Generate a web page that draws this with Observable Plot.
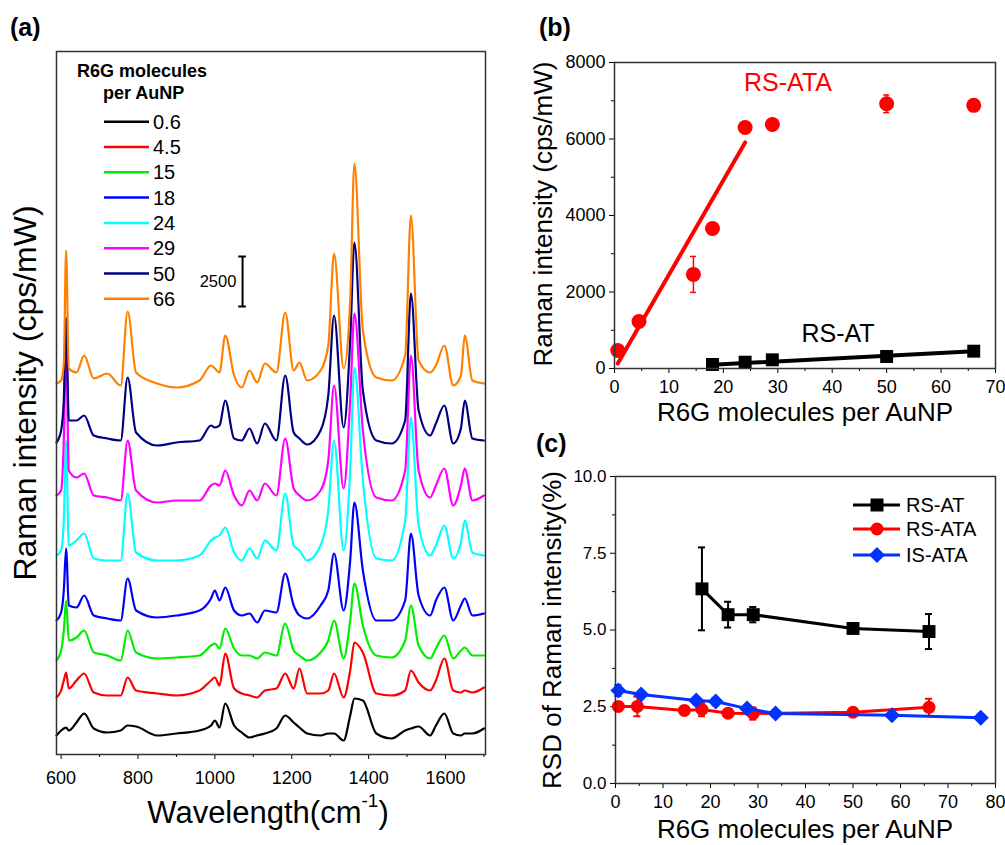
<!DOCTYPE html>
<html><head><meta charset="utf-8">
<script src="https://cdn.jsdelivr.net/npm/d3@7"></script>
<script src="https://cdn.jsdelivr.net/npm/@observablehq/plot@0.6"></script>
<style>
body{margin:0;background:#fff}
#wrap{position:relative;width:1005px;height:845px;overflow:hidden;background:#fff;font-family:"Liberation Sans",Arial,sans-serif}
#wrap > svg{position:absolute;left:0;top:0}
</style></head><body><div id="wrap"></div>
<script>
// ---------- Panel (a): spectra ----------
const wavenumbers = [588,600,607,613,620,640,660,685,720,755,773,795,850,900,960,990,1000,1012,1027,1050,1070,1090,1110,1130,1160,1183,1205,1220,1240,1275,1295,1310,1335,1352,1363,1385,1420,1460,1495,1510,1530,1560,1575,1597,1620,1640,1650,1670,1700];
const seriesNames = ["0.6","4.5","15","18","24","29","50","66"];
const seriesColors = ["#000000","#ff0000","#00ee00","#0000ff","#00ffff","#ff00ff","#000080","#ff8000"];
const offsets = [1100,3050,4850,6850,9850,12700,15600,18550];
const spec06 = [-150,100,200,250,100,500,950,200,0,100,350,300,-150,-50,100,350,600,250,1450,350,0,-250,-150,-50,200,850,500,250,-50,-150,-50,-50,-400,850,1700,1600,-50,-300,100,200,300,-150,350,950,-50,-150,-50,-50,200];
const spec45 = [-200,150,650,1050,250,650,1000,50,-100,-100,800,150,0,-100,150,650,800,400,2000,250,0,-100,-200,150,250,1000,250,1250,0,0,150,1000,-200,1150,2550,2050,0,-100,150,1150,550,150,650,1750,150,50,150,50,300];
const spec15 = [-150,350,1350,2850,850,1000,1350,250,100,-150,1350,250,-50,0,100,600,700,450,1450,450,100,100,-50,250,100,1700,350,100,-150,250,850,1850,-50,1850,3700,1600,100,0,850,2600,600,-50,450,1100,-50,350,500,100,100];
const spec18 = [-150,250,1350,3450,600,500,1100,100,-50,-150,1950,350,0,100,350,950,1350,850,1500,350,100,200,-250,350,250,2200,600,100,-50,600,1350,3200,350,2850,5750,2350,-150,-150,850,4200,1100,100,850,1500,-150,600,950,100,200];
const spec24 = [100,350,1850,5850,600,850,1200,-50,-150,-150,3200,250,-150,-150,100,850,1000,1100,1500,250,-150,450,-50,850,350,3200,600,350,-150,600,2350,5850,350,4350,9500,3850,-50,-150,1850,7000,1600,100,600,1600,-50,750,1850,250,100];
const spec29 = [250,500,3000,7750,1500,1150,1350,250,150,0,3000,500,-100,0,0,750,850,750,1500,250,-250,500,0,850,250,3100,600,250,0,500,2000,5750,600,5000,9350,3500,150,0,1500,7250,1500,150,750,1600,-250,750,1600,0,250];
const spec50 = [0,600,2100,6250,1100,1100,1350,350,200,100,3250,500,-150,0,100,850,750,850,2100,200,100,700,-50,950,100,3350,500,200,-100,600,2350,6350,750,5100,10000,2600,100,-50,1100,7450,1600,350,950,1850,-50,700,2100,200,100];
const spec66 = [0,150,1000,6650,750,550,1400,250,500,-100,3600,550,0,-200,150,900,750,550,2400,400,-200,650,50,1000,550,3550,650,1050,150,650,1900,6500,750,4150,11000,2650,300,150,1400,8400,1150,550,900,1900,-100,400,2400,150,0];
const xTicksA = [600,800,1000,1200,1400,1600];
const xMinorA = [700,900,1100,1300,1500,1700];
const scaleBarX = 1072, scaleBarBottom = 22400, scaleBarLength = 2500;

// ---------- Panel (b) ----------
const rsAtaX = [0.6,4.5,14.5,18,24,29,50,66];
const rsAtaY = [470,1230,2460,3660,6300,6380,6920,6880];
const rsAtaErr = [0,0,470,0,0,0,230,0];
const rsAtX = [18,24,29,50,66];
const rsAtY = [105,165,227,314,453];
const fitAtaX = [0.6,24], fitAtaY = [130,5910];
const fitAtX = [18,66], fitAtY = [100,450];
const xTicksB = [0,10,20,30,40,50,60,70];
const xMinorB = [5,15,25,35,45,55,65];
const yTicksB = [0,2000,4000,6000,8000];
const yMinorB = [1000,3000,5000,7000];

// ---------- Panel (c) ----------
const rsdAtX = [18.2,23.7,29,50,66];
const rsdAtY = [6.34,5.5,5.5,5.05,4.95];
const rsdAtErr = [1.35,0.42,0.25,0.08,0.57];
const rsdAtaX = [0.6,4.6,14.5,18.2,23.7,29,50,66];
const rsdAtaY = [2.51,2.51,2.38,2.41,2.29,2.28,2.32,2.48];
const rsdAtaErr = [0.1,0.32,0.1,0.22,0.12,0.2,0.12,0.28];
const rsdIsX = [0.6,5.4,17,21.1,27.7,33.7,58.2,76.9];
const rsdIsY = [3.03,2.9,2.7,2.67,2.44,2.28,2.22,2.14];
const rsdIsErr = [0.18,0.1,0.1,0.12,0.1,0.1,0.05,0.05];
const xTicksC = [0,10,20,30,40,50,60,70,80];
const xMinorC = [5,15,25,35,45,55,65,75];
const yTicksC = [0,2.5,5,7.5,10];
const yMinorC = [1.25,3.75,6.25,8.75];

const FONT = '"Liberation Sans", Arial, sans-serif';
const wrap = document.getElementById("wrap");
const baseStyle = {background:"transparent", overflow:"visible", fontFamily: FONT, color:"black"};
const plain = d => String(d);
const blank = () => "";

// Panel a
const spectra = [spec06,spec45,spec15,spec18,spec24,spec29,spec50,spec66];
const rows = [];
spectra.forEach((s,i)=> s.forEach((v,j)=> rows.push({series: seriesNames[i], wn: wavenumbers[j], y: offsets[i] + v})));

const plotA = Plot.plot({
  width:1005, height:845,
  marginLeft:56, marginRight:520, marginTop:51, marginBottom:91,
  x:{domain:[588,1704], axis:null}, y:{domain:[0,35150], axis:null},
  color:{domain: seriesNames, range: seriesColors},
  style: baseStyle,
  marks:[
    Plot.line(rows,{x:"wn", y:"y", z:"series", stroke:"series", strokeWidth:2.2, curve:"monotone-x"}),
    Plot.ruleX([scaleBarX],{y1:scaleBarBottom, y2:scaleBarBottom+scaleBarLength, stroke:"black", strokeWidth:2}),
    Plot.ruleY([scaleBarBottom, scaleBarBottom+scaleBarLength],{x1:scaleBarX-10, x2:scaleBarX+10, stroke:"black", strokeWidth:2}),
    Plot.text([String(scaleBarLength)],{x:scaleBarX-16, y:scaleBarBottom+scaleBarLength/2, text:d=>d, textAnchor:"end", fontSize:16.5, fill:"black"}),
    Plot.axisX(xTicksA,{tickSize:5, tickPadding:12, fontSize:18, tickFormat:plain, label:null}),
    Plot.axisX(xMinorA,{tickSize:3, tickFormat:blank, label:null}),
    Plot.frame({stroke:"#333", strokeWidth:1.5})
  ]
});
wrap.appendChild(plotA);

// Panel b
const bAta = rsAtaX.map((x,i)=>({x, y:rsAtaY[i], e:rsAtaErr[i]}));
const bAt = rsAtX.map((x,i)=>({x, y:rsAtY[i]}));
const bFitAta = fitAtaX.map((x,i)=>({x, y:fitAtaY[i]}));
const bFitAt = fitAtX.map((x,i)=>({x, y:fitAtY[i]}));
const bErr = bAta.filter(d=>d.e>0);
const plotB = Plot.plot({
  width:1005, height:845,
  marginLeft:614, marginRight:10, marginTop:62, marginBottom:477,
  x:{domain:[0,70], axis:null}, y:{domain:[0,8000], axis:null},
  style: baseStyle,
  marks:[
    Plot.axisX(xTicksB,{tickSize:5, tickPadding:7, fontSize:18, tickFormat:plain, label:null}),
    Plot.axisX(xMinorB,{tickSize:3, tickFormat:blank, label:null}),
    Plot.axisY(yTicksB,{tickSize:5, tickPadding:4, fontSize:18, tickFormat:plain, label:null}),
    Plot.axisY(yMinorB,{tickSize:3, tickFormat:blank, label:null}),
    Plot.line(bFitAta,{x:"x", y:"y", stroke:"#ff0000", strokeWidth:4}),
    Plot.line(bFitAt,{x:"x", y:"y", stroke:"black", strokeWidth:4}),
    Plot.ruleX(bErr,{x:"x", y1:d=>d.y-d.e, y2:d=>d.y+d.e, stroke:"#ff0000", strokeWidth:1.5}),
    Plot.ruleY(bErr,{y:d=>d.y-d.e, x1:d=>d.x-0.55, x2:d=>d.x+0.55, stroke:"#ff0000", strokeWidth:1.5}),
    Plot.ruleY(bErr,{y:d=>d.y+d.e, x1:d=>d.x-0.55, x2:d=>d.x+0.55, stroke:"#ff0000", strokeWidth:1.5}),
    Plot.dot(bAta,{x:"x", y:"y", r:7.5, fill:"#ff0000", stroke:"none"}),
    Plot.dot(bAt,{x:"x", y:"y", r:7.3, symbol:"square", fill:"black", stroke:"none"}),
    Plot.frame({stroke:"#333", strokeWidth:1.5})
  ]
});
wrap.appendChild(plotB);

// Panel c
const cAt = rsdAtX.map((x,i)=>({x, y:rsdAtY[i], e:rsdAtErr[i]}));
const cAta = rsdAtaX.map((x,i)=>({x, y:rsdAtaY[i], e:rsdAtaErr[i]}));
const cIs = rsdIsX.map((x,i)=>({x, y:rsdIsY[i], e:rsdIsErr[i]}));
function errMarks(data, color, w){
  return [
    Plot.ruleX(data,{x:"x", y1:d=>d.y-d.e, y2:d=>d.y+d.e, stroke:color, strokeWidth:2}),
    Plot.ruleY(data,{y:d=>d.y-d.e, x1:d=>d.x-w, x2:d=>d.x+w, stroke:color, strokeWidth:2}),
    Plot.ruleY(data,{y:d=>d.y+d.e, x1:d=>d.x-w, x2:d=>d.x+w, stroke:color, strokeWidth:2})
  ];
}
const plotC = Plot.plot({
  width:1005, height:845,
  marginLeft:615, marginRight:10, marginTop:476, marginBottom:62,
  x:{domain:[0,80], axis:null}, y:{domain:[0,10], axis:null},
  style: baseStyle,
  marks:[
    Plot.axisX(xTicksC,{tickSize:5, tickPadding:7, fontSize:18, tickFormat:plain, label:null}),
    Plot.axisX(xMinorC,{tickSize:3, tickFormat:blank, label:null}),
    Plot.axisY(yTicksC,{tickSize:5, tickPadding:4, fontSize:17, tickFormat:d=>d.toFixed(1), label:null}),
    Plot.axisY(yMinorC,{tickSize:3, tickFormat:blank, label:null}),
    ...errMarks(cAt,"black",0.75),
    Plot.line(cAt,{x:"x", y:"y", stroke:"black", strokeWidth:3}),
    Plot.dot(cAt,{x:"x", y:"y", r:7.3, symbol:"square", fill:"black", stroke:"none"}),
    ...errMarks(cAta,"#ff0000",0.75),
    Plot.line(cAta,{x:"x", y:"y", stroke:"#ff0000", strokeWidth:3}),
    Plot.dot(cAta,{x:"x", y:"y", r:6.5, fill:"#ff0000", stroke:"none"}),
    ...errMarks(cIs,"#0033ff",0.75),
    Plot.line(cIs,{x:"x", y:"y", stroke:"#0033ff", strokeWidth:3}),
    Plot.dot(cIs,{x:"x", y:"y", r:7.2, symbol:"diamond2", fill:"#0033ff", stroke:"none"}),
    Plot.frame({stroke:"#333", strokeWidth:1.5})
  ]
});
wrap.appendChild(plotC);

// ---------- Overlay: labels and legends ----------
const NS = "http://www.w3.org/2000/svg";
let ov = `<svg xmlns="${NS}" width="1005" height="845" style="position:absolute;left:0;top:0;font-family:${FONT.replace(/"/g,"'")}">`;
ov += `<text x="10" y="27" font-size="25" font-weight="bold" dominant-baseline="central">(a)</text>`;
ov += `<text x="539" y="27" font-size="25" font-weight="bold" dominant-baseline="central">(b)</text>`;
ov += `<text x="536" y="443" font-size="25" font-weight="bold" dominant-baseline="central">(c)</text>`;
ov += `<text x="268" y="812" font-size="31" text-anchor="middle" dominant-baseline="central">Wavelength(cm<tspan dy="-12" font-size="19">-1</tspan><tspan dy="12">)</tspan></text>`;
ov += `<text transform="translate(25,393) rotate(-90)" font-size="32" text-anchor="middle" dominant-baseline="central">Raman intensity (cps/mW)</text>`;
ov += `<text x="77" y="71" font-size="18" font-weight="bold" dominant-baseline="central">R6G molecules</text>`;
ov += `<text x="103" y="93" font-size="18" font-weight="bold" dominant-baseline="central">per AuNP</text>`;
seriesNames.forEach((n,i)=>{
  const y = 121.7 + i*25.3;
  ov += `<line x1="104" x2="149" y1="${y}" y2="${y}" stroke="${seriesColors[i]}" stroke-width="2.5"/>`;
  ov += `<text x="153" y="${y}" font-size="20" dominant-baseline="central">${n}</text>`;
});
ov += `<text transform="translate(543,214) rotate(-90)" font-size="26" text-anchor="middle" dominant-baseline="central">Raman intensity (cps/mW)</text>`;
ov += `<text x="805" y="412" font-size="26" text-anchor="middle" dominant-baseline="central">R6G molecules per AuNP</text>`;
ov += `<text x="788" y="82" font-size="25" fill="#ff0000" text-anchor="middle" dominant-baseline="central">RS-ATA</text>`;
ov += `<text x="838" y="333" font-size="25" text-anchor="middle" dominant-baseline="central">RS-AT</text>`;
ov += `<text transform="translate(552,630) rotate(-90)" font-size="26" text-anchor="middle" dominant-baseline="central">RSD of Raman intensity(%)</text>`;
ov += `<text x="805" y="829" font-size="26" text-anchor="middle" dominant-baseline="central">R6G molecules per AuNP</text>`;
const legC = [["RS-AT","black","square",505],["RS-ATA","#ff0000","circle",529],["IS-ATA","#0033ff","diamond",555]];
legC.forEach(([name,col,sym,y])=>{
  ov += `<line x1="853" x2="900" y1="${y}" y2="${y}" stroke="${col}" stroke-width="3"/>`;
  if(sym==="square") ov += `<rect x="870.5" y="${y-6.5}" width="13" height="13" fill="${col}"/>`;
  if(sym==="circle") ov += `<circle cx="877" cy="${y}" r="6.5" fill="${col}"/>`;
  if(sym==="diamond") ov += `<polygon points="877,${y-8} 885,${y} 877,${y+8} 869,${y}" fill="${col}"/>`;
  ov += `<text x="906" y="${y}" font-size="20" dominant-baseline="central">${name}</text>`;
});
ov += `</svg>`;
wrap.insertAdjacentHTML("beforeend", ov);
</script></body></html>
